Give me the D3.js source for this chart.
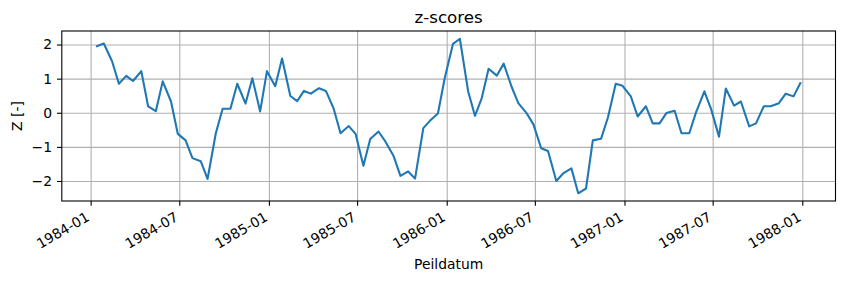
<!DOCTYPE html>
<html>
<head>
<title>z-scores</title>
    <meta charset="utf-8">
    <script type="text/javascript" src="https://d3js.org/d3.v7.min.js"></script>
    <style>
        body { margin: 0; background: #fff; }
        text { font-family: "DejaVu Sans", sans-serif; }
    </style>
</head>
<body>
<svg width="845" height="282" id="mainsvg"></svg>
<script>

    // measurement dates: 14th and 28th of each month
    const dates = [
        '1984-01-14','1984-01-28','1984-02-14','1984-02-28','1984-03-14','1984-03-28',
        '1984-04-14','1984-04-28','1984-05-14','1984-05-28','1984-06-14','1984-06-28',
        '1984-07-14','1984-07-28','1984-08-14','1984-08-28','1984-09-14','1984-09-28',
        '1984-10-14','1984-10-28','1984-11-14','1984-11-28','1984-12-14','1984-12-28',
        '1985-01-14','1985-01-28','1985-02-14','1985-02-28','1985-03-14','1985-03-28',
        '1985-04-14','1985-04-28','1985-05-14','1985-05-28','1985-06-14','1985-06-28',
        '1985-07-14','1985-07-28','1985-08-14','1985-08-28','1985-09-14','1985-09-28',
        '1985-10-14','1985-10-28','1985-11-14','1985-11-28','1985-12-14','1985-12-28',
        '1986-01-14','1986-01-28','1986-02-14','1986-02-28','1986-03-14','1986-03-28',
        '1986-04-14','1986-04-28','1986-05-14','1986-05-28','1986-06-14','1986-06-28',
        '1986-07-14','1986-07-28','1986-08-14','1986-08-28','1986-09-14','1986-09-28',
        '1986-10-14','1986-10-28','1986-11-14','1986-11-28','1986-12-14','1986-12-28',
        '1987-01-14','1987-01-28','1987-02-14','1987-02-28','1987-03-14','1987-03-28',
        '1987-04-14','1987-04-28','1987-05-14','1987-05-28','1987-06-14','1987-06-28',
        '1987-07-14','1987-07-28','1987-08-14','1987-08-28','1987-09-14','1987-09-28',
        '1987-10-14','1987-10-28','1987-11-14','1987-11-28','1987-12-14','1987-12-28'
    ];
    const zscores = [
        1.95, 2.03, 1.51, 0.85, 1.08, 0.93, 1.22, 0.19, 0.05, 0.92, 0.33, -0.62,
        -0.81, -1.33, -1.42, -1.94, -0.60, 0.12, 0.12, 0.85, 0.27, 1.01, 0.04, 1.22,
        0.78, 1.59, 0.49, 0.34, 0.64, 0.56, 0.72, 0.64, 0.12, -0.60, -0.39, -0.62,
        -1.55, -0.77, -0.55, -0.84, -1.27, -1.85, -1.72, -1.93, -0.45, -0.23, -0.02, 1.02,
        2.02, 2.17, 0.63, -0.09, 0.43, 1.29, 1.09, 1.44, 0.77, 0.28, -0.01, -0.34,
        -1.04, -1.12, -2.00, -1.78, -1.63, -2.36, -2.22, -0.81, -0.76, -0.14, 0.85, 0.79,
        0.48, -0.11, 0.19, -0.31, -0.31, -0.01, 0.06, -0.60, -0.60, 0.02, 0.63, 0.10,
        -0.70, 0.71, 0.21, 0.33, -0.40, -0.31, 0.19, 0.19, 0.28, 0.56, 0.48, 0.87
    ];
    const xTicks = ['1984-01','1984-07','1985-01','1985-07','1986-01','1986-07','1987-01','1987-07','1988-01'];
    const yTicks = [-2, -1, 0, 1, 2];

    const parse = d3.utcParse('%Y-%m-%d');
    const parseMonth = d3.utcParse('%Y-%m');
    const data = dates.map((d, i) => ({date: parse(d), value: zscores[i]}));

    const svg = d3.select('#mainsvg');
    const width = +svg.attr('width');
    const height = +svg.attr('height');
    const margin = {top: 31, right: 9.5, bottom: 81, left: 61.8};
    const innerWidth = width - margin.left - margin.right;
    const innerHeight = height - margin.top - margin.bottom;

    // matplotlib-style 5% margins
    const [x0, x1] = d3.extent(data, d => d.date);
    const xPad = (x1 - x0) * 0.05;
    const [y0, y1] = d3.extent(data, d => d.value);
    const yPad = (y1 - y0) * 0.05;

    const xScale = d3.scaleUtc()
        .domain([new Date(+x0 - xPad), new Date(+x1 + xPad)])
        .range([0, innerWidth]);

    const yScale = d3.scaleLinear()
        .domain([y0 - yPad, y1 + yPad])
        .range([innerHeight, 0]);

    const g = svg.append('g').attr('id', 'maingroup')
        .attr('transform', `translate(${margin.left},${margin.top})`);

    const xTickDates = xTicks.map(parseMonth);
    const minus = d => d < 0 ? '\u2212' + Math.abs(d) : String(d);

    // grid
    g.append('g')
        .call(d3.axisBottom(xScale).tickValues(xTickDates).tickSize(innerHeight).tickFormat(''))
        .call(s => s.select('.domain').remove())
        .selectAll('line').attr('stroke', '#b0b0b0').attr('stroke-width', 1.1);
    g.append('g')
        .call(d3.axisLeft(yScale).tickValues(yTicks).tickSize(-innerWidth).tickFormat(''))
        .call(s => s.select('.domain').remove())
        .selectAll('line').attr('stroke', '#b0b0b0').attr('stroke-width', 1.1);

    // line
    const line = d3.line().x(d => xScale(d.date)).y(d => yScale(d.value));
    g.append('path')
        .datum(data)
        .attr('d', line)
        .attr('fill', 'none')
        .attr('stroke', '#1f77b4')
        .attr('stroke-width', 2.08)
        .attr('stroke-linejoin', 'round')
        .attr('stroke-linecap', 'square');

    // axes
    const yAxis = d3.axisLeft(yScale).tickValues(yTicks).tickSize(4.86).tickPadding(4.86).tickFormat(minus);
    g.append('g').call(yAxis)
        .call(s => s.select('.domain').remove())
        .call(s => s.selectAll('line').attr('stroke-width', 1.1))
        .call(s => s.selectAll('text').attr('font-size', 13.9).attr('fill', '#000')
            .attr('font-family', '"DejaVu Sans", sans-serif'));

    const xAxis = d3.axisBottom(xScale).tickValues(xTickDates).tickSize(4.86).tickFormat(d3.utcFormat('%Y-%m'));
    const xg = g.append('g').call(xAxis).attr('transform', `translate(0,${innerHeight})`);
    xg.select('.domain').remove();
    xg.selectAll('line').attr('stroke-width', 1.1);
    xg.selectAll('text')
        .attr('font-size', 13.9)
        .attr('fill', '#000')
        .attr('font-family', '"DejaVu Sans", sans-serif')
        .attr('text-anchor', 'end')
        .attr('y', 0)
        .attr('dy', '0.76em')
        .attr('transform', 'translate(-6,9.7) rotate(-30)');

    // frame
    g.append('rect')
        .attr('width', innerWidth)
        .attr('height', innerHeight)
        .attr('fill', 'none')
        .attr('stroke', '#000')
        .attr('stroke-width', 1.1);

    g.append('text').text('z-scores')
        .attr('font-size', 16.7)
        .attr('x', innerWidth / 2)
        .attr('y', -8.3)
        .attr('text-anchor', 'middle');

    g.append('text').text('Peildatum')
        .attr('font-size', 13.9)
        .attr('x', innerWidth / 2)
        .attr('y', 238)
        .attr('text-anchor', 'middle');

    g.append('text').text('Z [-]')
        .attr('font-size', 13.9)
        .attr('transform', `translate(-40,${innerHeight / 2}) rotate(-90)`)
        .attr('text-anchor', 'middle');

</script>
</body>
</html>
